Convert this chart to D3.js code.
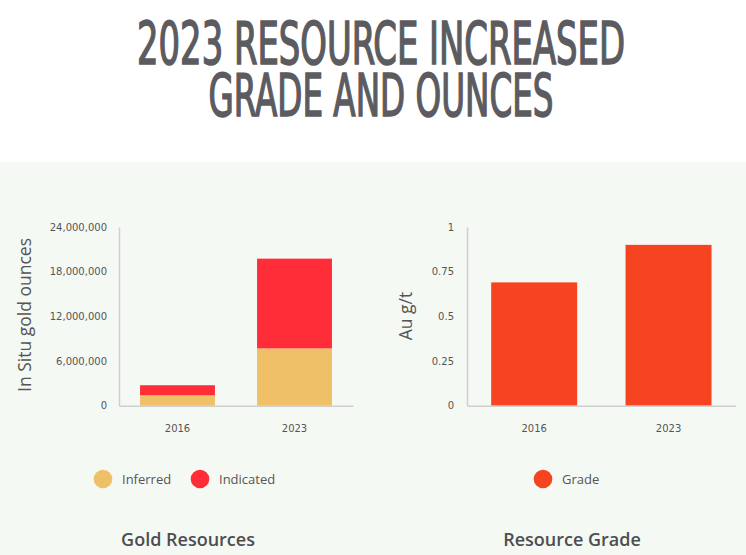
<!DOCTYPE html>
<html>
<head>
<meta charset="utf-8">
<script src="https://cdn.jsdelivr.net/npm/d3@7"></script>
<style>
  body { margin: 0; background: #fff; }
  svg { display: block; }
  .tick text { font-family: "DejaVu Sans", Verdana, sans-serif; font-size: 10px; fill: #555; }
  .domain { stroke: #cfcfcf; stroke-width: 1.5px; }
</style>
</head>
<body>
<svg id="chart" width="746" height="555"></svg>
<script>
// data
var years = ["2016", "2023"];
var inferred = [1400000, 7700000];
var indicated = [1350000, 12050000];
var grade = [0.69, 0.9];
var ounceTicks = [0, 6000000, 12000000, 18000000, 24000000];
var gradeTicks = [0, 0.25, 0.5, 0.75, 1];

var colInferred = "#f0c068", colIndicated = "#ff2d38", colGrade = "#f5441f";

var svg = d3.select("#chart");

// page background: white header, pale green panel
svg.append("rect").attr("width", 746).attr("height", 555).attr("fill", "#fff");
svg.append("rect").attr("y", 162).attr("width", 746).attr("height", 393).attr("fill", "#f5f9f3");

// title: condensed font squeezed horizontally to the reference width
var titleLines = [
  { text: "2023 RESOURCE INCREASED", y: 64, w: 488 },
  { text: "GRADE AND OUNCES", y: 116, w: 345 }
];
svg.selectAll("text.title").data(titleLines).enter().append("text")
  .attr("class", "title")
  .attr("text-anchor", "middle")
  .style("font-family", "'DejaVu Sans Condensed', 'DejaVu Sans', sans-serif")
  .style("font-size", "58px")
  .style("fill", "#5b5b60")
  .style("stroke", "#5b5b60")
  .style("stroke-width", "1.6px")
  .text(function (d) { return d.text; })
  .attr("transform", function (d) {
    var sx = d.w / this.getComputedTextLength();
    return "translate(381," + d.y + ") scale(" + sx + ",1)";
  });

var yTop = 227, yBot = 405.7;

// ---- left: stacked gold resources
var x1 = d3.scaleBand().domain(years).range([119, 353]).paddingInner(0.36).paddingOuter(0.18);
var y1 = d3.scaleLinear().domain([0, 24000000]).range([yBot, yTop]);

var stackRows = years.map(function (yr, i) {
  return { year: yr, Inferred: inferred[i], Indicated: indicated[i] };
});
var stacked = d3.stack().keys(["Inferred", "Indicated"])(stackRows);
var stackColors = d3.scaleOrdinal().domain(["Inferred", "Indicated"]).range([colInferred, colIndicated]);

var g1 = svg.append("g");
g1.selectAll("g.layer").data(stacked).enter().append("g")
  .attr("fill", function (d) { return stackColors(d.key); })
  .selectAll("rect").data(function (d) { return d; }).enter().append("rect")
  .attr("x", function (d) { return x1(d.data.year); })
  .attr("width", x1.bandwidth())
  .attr("y", function (d) { return y1(d[1]); })
  .attr("height", function (d) { return y1(d[0]) - y1(d[1]); });

g1.append("g").attr("transform", "translate(119,0)")
  .call(d3.axisLeft(y1).tickValues(ounceTicks).tickFormat(d3.format(",")).tickSize(0).tickPadding(12).tickSizeOuter(0));
g1.append("g").attr("transform", "translate(0," + yBot + ")")
  .call(d3.axisBottom(x1).tickSize(0).tickPadding(19).tickSizeOuter(0));

// ---- right: grade
var x2 = d3.scaleBand().domain(years).range([467, 735.7]).paddingInner(0.36).paddingOuter(0.18);
var y2 = d3.scaleLinear().domain([0, 1]).range([yBot, yTop]);

var g2 = svg.append("g");
g2.selectAll("rect").data(grade).enter().append("rect")
  .attr("fill", colGrade)
  .attr("x", function (d, i) { return x2(years[i]); })
  .attr("width", x2.bandwidth())
  .attr("y", function (d) { return y2(d); })
  .attr("height", function (d) { return yBot - y2(d); });

g2.append("g").attr("transform", "translate(467,0)")
  .call(d3.axisLeft(y2).tickValues(gradeTicks).tickFormat(d3.format("")).tickSize(0).tickPadding(13).tickSizeOuter(0));
g2.append("g").attr("transform", "translate(0," + yBot + ")")
  .call(d3.axisBottom(x2).tickSize(0).tickPadding(19).tickSizeOuter(0));

svg.selectAll(".tick line").remove();

// axis titles
var axisTitles = [
  { text: "In Situ gold ounces", x: 31, y: 315 },
  { text: "Au g/t", x: 412, y: 316 }
];
svg.selectAll("text.ytitle").data(axisTitles).enter().append("text")
  .attr("transform", function (d) { return "translate(" + d.x + "," + d.y + ") rotate(-90)"; })
  .attr("text-anchor", "middle")
  .style("font-family", "'Open Sans', sans-serif")
  .style("font-size", "17.5px")
  .style("fill", "#555")
  .text(function (d) { return d.text; });

// legends
var legendItems = [
  { label: "Inferred", color: colInferred, x: 103 },
  { label: "Indicated", color: colIndicated, x: 200 },
  { label: "Grade", color: colGrade, x: 543 }
];
var lg = svg.selectAll("g.legend").data(legendItems).enter().append("g")
  .attr("transform", function (d) { return "translate(" + d.x + ",479)"; });
lg.append("circle").attr("r", 9.3).attr("fill", function (d) { return d.color; });
lg.append("text").attr("x", 19).attr("y", 5)
  .style("font-family", "'Open Sans', sans-serif")
  .style("font-size", "13px")
  .style("fill", "#555")
  .text(function (d) { return d.label; });

// chart captions
var captions = [
  { text: "Gold Resources", x: 188 },
  { text: "Resource Grade", x: 572 }
];
svg.selectAll("text.caption").data(captions).enter().append("text")
  .attr("x", function (d) { return d.x; }).attr("y", 546)
  .attr("text-anchor", "middle")
  .style("font-family", "'Open Sans', sans-serif")
  .style("font-weight", 600)
  .style("font-size", "18px")
  .style("fill", "#4d4d52")
  .text(function (d) { return d.text; });
</script>
</body>
</html>
